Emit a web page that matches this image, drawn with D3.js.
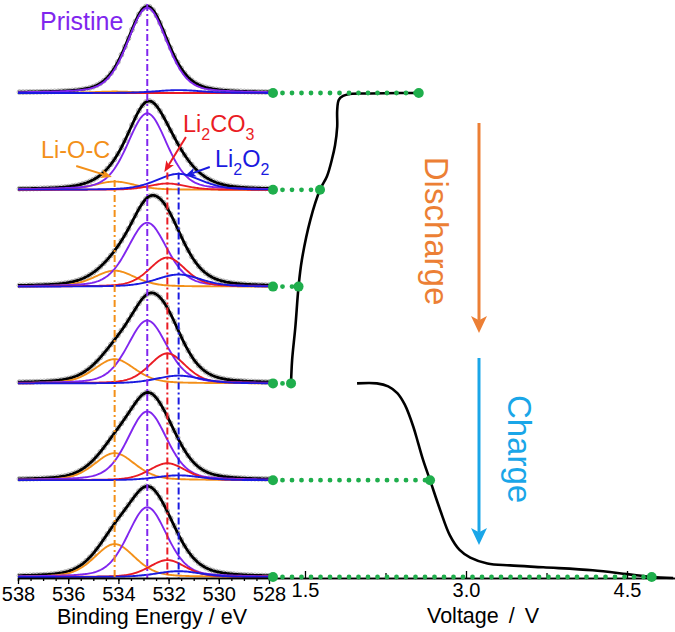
<!DOCTYPE html>
<html lang="en">
<head>
  <meta charset="UTF-8">
  <title>O 1s XPS and voltage profile</title>
  <script src="https://d3js.org/d3.v7.min.js"></script>
  <style>
    body { margin: 0; background: #fff; }
    text { font-family: Arial, "Liberation Sans", sans-serif; }
    .axis text { font-size: 20px; fill: #000; }
    .axis path, .axis line { stroke: #000; stroke-width: 1.3; }
    .axis-label { font-size: 21.5px; text-anchor: middle; }
  </style>
</head>
<body>
  <svg id="chart" width="675" height="632"></svg>

  <script>
    // Tick labels
    const energyTicks = [538, 536, 534, 532, 530, 528];
    const voltageTicks = [1.5, 3.0, 4.5];

    // Fitted O 1s components: Li-O-C, main peak, Li2CO3, Li2O2
    const peakCenters = [534.15, 532.85, 532.05, 531.6];
    const peakFwhm = [1.9, 1.85, 1.7, 2.1];

    // Component heights per spectrum, pristine (top) to fully charged (bottom)
    const liocHeights = [0.015, 0.085, 0.165, 0.25, 0.28, 0.34];
    const mainHeights = [0.88, 0.79, 0.66, 0.65, 0.71, 0.72];
    const carbHeights = [0.0, 0.065, 0.30, 0.31, 0.175, 0.175];
    const peroxHeights = [0.03, 0.165, 0.125, 0.08, 0.05, 0.06];

    // Voltage profile; t runs down the stack (0 = pristine, 5 = last spectrum)
    const dischargeV = [2.56, 2.39, 2.11, 1.92, 1.855, 1.815, 1.80, 1.80, 1.78, 1.75, 1.705, 1.64, 1.55, 1.47, 1.44, 1.41, 1.38, 1.37];
    const dischargeT = [0, 0, 0.005, 0.01, 0.03, 0.07, 0.18, 0.35, 0.54, 0.69, 0.86, 1.0, 1.31, 1.73, 2.0, 2.42, 2.76, 3.0];
    const chargeV = [1.985, 2.17, 2.275, 2.36, 2.43, 2.51, 2.555, 2.60, 2.665, 2.76, 2.85, 2.94, 3.04, 3.20, 3.41, 3.72, 4.18, 4.50, 4.73, 4.93];
    const chargeT = [3.0, 3.0, 3.03, 3.10, 3.22, 3.45, 3.62, 3.79, 4.0, 4.31, 4.57, 4.72, 4.80, 4.86, 4.88, 4.90, 4.93, 4.97, 5.0, 5.01];

    // Voltage at which each spectrum was recorded
    const sampleV = [2.56, 1.64, 1.44, 1.37, 2.665, 4.73];

    const colors = {
      lioc: "#f39019", main: "#8026ee", carb: "#ea1c24", perox: "#1a1ae0",
      green: "#1fae4c", discharge: "#ec7f35", charge: "#1aa6e8"
    };

    const svg = d3.select("#chart");

    // Scales
    const xE = d3.scaleLinear().domain([538, 528]).range([18, 269]);
    const xV = d3.scaleLinear().domain([1.202, 4.947]).range([273, 675]);
    const yPos = d3.scaleLinear().domain([0, 5]).range([93, 577]);
    const axisY = 578;

    // Gaussian-Lorentzian (pseudo-Voigt) line shape, 30% Lorentzian
    const peak = (e, c, h, w) => {
      const u = (e - c) * (e - c) / (w * w);
      return h * (0.7 * Math.exp(-4 * Math.LN2 * u) + 0.3 / (1 + 4 * u));
    };
    const grid = d3.range(528, 538.0001, 0.05);
    const dataGrid = d3.range(528, 538.0001, 0.14);

    const compHeights = [liocHeights, mainHeights, carbHeights, peroxHeights];
    const compColors = [colors.lioc, colors.main, colors.carb, colors.perox];
    const envelope = (i, e) => d3.sum(compHeights, (hs, k) => peak(e, peakCenters[k], hs[i], peakFwhm[k]));

    const spectra = svg.append("g");
    d3.range(6).forEach(i => {
      const g = spectra.append("g");
      const line = d3.line().x(d => xE(d[0])).y(d => yPos(i - d[1]));

      // measured points
      g.selectAll("circle")
        .data(dataGrid)
        .enter()
        .append("circle")
        .attr("cx", e => xE(e))
        .attr("cy", e => yPos(i - envelope(i, e)))
        .attr("r", 2.4)
        .attr("fill", "none")
        .attr("stroke", "#999")
        .attr("stroke-width", 0.8);

      // envelope
      g.append("path")
        .attr("d", line(grid.map(e => [e, envelope(i, e)])))
        .attr("fill", "none")
        .attr("stroke", "#000")
        .attr("stroke-width", 2.8);

      // components
      [0, 1, 2, 3].forEach(k => {
        g.append("path")
          .attr("d", line(grid.map(e => [e, peak(e, peakCenters[k], compHeights[k][i], peakFwhm[k])])))
          .attr("fill", "none")
          .attr("stroke", compColors[k])
          .attr("stroke-width", 1.9);
      });
    });

    // Dash-dot guide lines at each component position
    const guideTop = [0.9, -0.92, 0.82, 0.82];
    [0, 1, 2, 3].forEach(k => {
      svg.append("line")
        .attr("x1", xE(peakCenters[k])).attr("x2", xE(peakCenters[k]))
        .attr("y1", yPos(guideTop[k])).attr("y2", axisY)
        .attr("stroke", compColors[k])
        .attr("stroke-width", 2)
        .attr("stroke-dasharray", "7,3,2,3");
    });

    // Arrow helper
    function arrow(x1, y1, x2, y2, color, width, len, half) {
      const a = Math.atan2(y2 - y1, x2 - x1);
      const back = len * 0.75;
      const g = svg.append("g");
      g.append("line")
        .attr("x1", x1).attr("y1", y1)
        .attr("x2", x2 - Math.cos(a) * back).attr("y2", y2 - Math.sin(a) * back)
        .attr("stroke", color).attr("stroke-width", width);
      g.append("path")
        .attr("d", `M0,0 L${-len},${-half} L${-back},0 L${-len},${half} Z`)
        .attr("transform", `translate(${x2},${y2}) rotate(${a * 180 / Math.PI})`)
        .attr("fill", color);
    }

    // Component labels
    svg.append("text").attr("x", 40).attr("y", 30)
      .attr("fill", colors.main).style("font-size", "25px").text("Pristine");
    svg.append("text").attr("x", 41).attr("y", 158)
      .attr("fill", colors.lioc).style("font-size", "23.5px").text("Li-O-C");

    const carbLabel = svg.append("text").attr("x", 183).attr("y", 132)
      .attr("fill", colors.carb).style("font-size", "23.5px");
    carbLabel.append("tspan").text("Li");
    carbLabel.append("tspan").attr("dy", 8).style("font-size", "16px").text("2");
    carbLabel.append("tspan").attr("dy", -8).text("CO");
    carbLabel.append("tspan").attr("dy", 8).style("font-size", "16px").text("3");

    const peroxLabel = svg.append("text").attr("x", 215).attr("y", 167)
      .attr("fill", colors.perox).style("font-size", "23.5px");
    peroxLabel.append("tspan").text("Li");
    peroxLabel.append("tspan").attr("dy", 8).style("font-size", "16px").text("2");
    peroxLabel.append("tspan").attr("dy", -8).text("O");
    peroxLabel.append("tspan").attr("dy", 8).style("font-size", "16px").text("2");

    arrow(xE(535.68), yPos(0.754), xE(534.26), yPos(0.868), colors.lioc, 2, 11, 4.5);
    arrow(xE(531.31), yPos(0.455), xE(532.17), yPos(0.816), colors.carb, 2, 11, 4.5);
    arrow(xE(530.36), yPos(0.764), xE(531.35), yPos(0.857), colors.perox, 2, 11, 4.5);

    // Voltage profile
    const vLine = d3.line()
      .x(d => xV(d[0]))
      .y(d => yPos(d[1]))
      .curve(d3.curveCatmullRom.alpha(0.5));

    svg.append("path")
      .attr("d", vLine(dischargeV.map((v, j) => [v, dischargeT[j]])))
      .attr("fill", "none").attr("stroke", "#000").attr("stroke-width", 2.6);
    svg.append("path")
      .attr("d", vLine(chargeV.map((v, j) => [v, chargeT[j]])))
      .attr("fill", "none").attr("stroke", "#000").attr("stroke-width", 2.6);

    // Bottom axes
    svg.append("g")
      .attr("class", "axis")
      .attr("transform", `translate(0,${axisY})`)
      .call(d3.axisBottom(xE).tickValues(d3.range(528, 538.01, 0.5)).tickSize(3).tickFormat(""));
    svg.append("g")
      .attr("class", "axis")
      .attr("transform", `translate(0,${axisY})`)
      .call(d3.axisBottom(xE).tickValues(energyTicks).tickSize(6).tickSizeOuter(0).tickPadding(3).tickFormat(d3.format("d")));

    svg.append("g")
      .attr("class", "axis")
      .attr("transform", `translate(0,${axisY})`)
      .call(d3.axisBottom(xV).tickValues([2.25, 3.75]).tickSizeInner(-5).tickSizeOuter(0).tickFormat(""));
    svg.append("g")
      .attr("class", "axis")
      .attr("transform", `translate(0,${axisY})`)
      .call(d3.axisBottom(xV).tickValues(voltageTicks).tickSizeInner(-7).tickSizeOuter(0).tickPadding(5).tickFormat(d3.format(".1f")));

    // Dotted connectors between spectra and profile
    sampleV.forEach((v, i) => {
      const y = yPos(i);
      const x0 = xV.range()[0];
      svg.append("line")
        .attr("x1", x0).attr("x2", xV(v))
        .attr("y1", y).attr("y2", y)
        .attr("stroke", colors.green)
        .attr("stroke-width", 4.8)
        .attr("stroke-linecap", "round")
        .attr("stroke-dasharray", "0,9.5");
      [x0, xV(v)].forEach(x => {
        svg.append("circle").attr("cx", x).attr("cy", y).attr("r", 5).attr("fill", colors.green);
      });
    });

    // Discharge / Charge arrows
    arrow(479, 123, 479, 333, colors.discharge, 3, 17, 8);
    arrow(479, 358, 479, 545, colors.charge, 3, 17, 8);

    svg.append("text")
      .attr("transform", "translate(425,231) rotate(90)")
      .attr("text-anchor", "middle")
      .attr("fill", colors.discharge)
      .style("font-size", "33px")
      .text("Discharge");
    svg.append("text")
      .attr("transform", "translate(508,449) rotate(90)")
      .attr("text-anchor", "middle")
      .attr("fill", colors.charge)
      .style("font-size", "33px")
      .text("Charge");

    // Axis titles
    svg.append("text").attr("class", "axis-label")
      .attr("x", 152).attr("y", 624).text("Binding Energy / eV");
    svg.append("text").attr("class", "axis-label")
      .attr("x", 483).attr("y", 623)
      .style("word-spacing", "4px")
      .text("Voltage / V");
  </script>
</body>
</html>
